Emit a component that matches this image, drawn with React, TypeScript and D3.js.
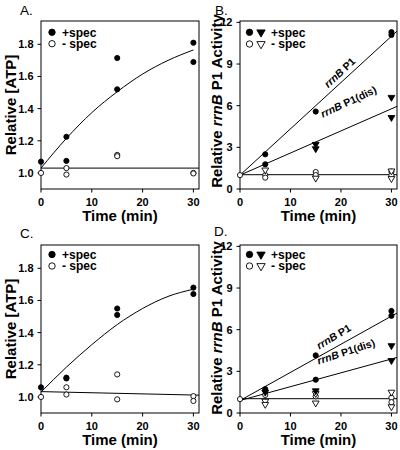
import React from "react";
import * as d3 from "d3";

const FONT = "'Liberation Sans', Arial, Helvetica, sans-serif";

// shared ticks
const timeTicks = [0, 10, 20, 30];
const atpTicks = [1.0, 1.2, 1.4, 1.6, 1.8];
const actTicks = [0, 3, 6, 9, 12];

// ---------- Panel A ----------
const aPlusT = [0, 5, 5, 15, 15, 30, 30];
const aPlusV = [1.07, 1.225, 1.075, 1.715, 1.52, 1.81, 1.69];
const aMinusT = [0, 5, 5, 15, 15, 30, 30];
const aMinusV = [1.0, 1.03, 0.99, 1.112, 1.104, 1.0, 0.997];
const fitT = [0, 5, 10, 15, 20, 25, 30];
const aFitPlus = [1.03, 1.215, 1.375, 1.505, 1.615, 1.7, 1.765];
const flatT = [0, 31.1];
const aFitMinus = [1.03, 1.03];

// ---------- Panel C ----------
const cPlusT = [0, 5, 5, 15, 15, 30, 30];
const cPlusV = [1.06, 1.12, 1.115, 1.55, 1.51, 1.68, 1.64];
const cMinusT = [0, 5, 5, 15, 15, 30, 30];
const cMinusV = [1.0, 1.06, 1.015, 1.14, 0.985, 1.005, 0.975];
const cFitPlus = [1.03, 1.185, 1.325, 1.45, 1.55, 1.625, 1.67];
const cFitMinus = [1.033, 1.011];

// ---------- Panel B ----------
const bCircT = [5, 5, 15, 30, 30];
const bCircV = [2.5, 1.78, 5.58, 11.3, 11.1];
const bTriT = [15, 15, 30, 30];
const bTriV = [3.22, 2.9, 6.6, 5.15];
const bOpenCircT = [0, 5, 5, 15, 15, 30, 30];
const bOpenCircV = [1.0, 1.0, 0.82, 1.22, 1.0, 1.25, 1.0];
const bOpenTriT = [5, 15, 30, 30];
const bOpenTriV = [1.37, 0.78, 1.3, 0.75];
const lineT = [0, 31.1];
const bP1Line = [1.0, 11.37];
const bDisLine = [1.0, 5.95];
const bMinusLine = [1.03, 1.03];

// ---------- Panel D ----------
const dCircT = [5, 15, 15, 30, 30];
const dCircV = [1.72, 4.15, 2.4, 7.35, 7.0];
const dTriT = [5, 15, 30, 30];
const dTriV = [1.5, 1.6, 4.85, 3.78];
const dOpenCircT = [0, 5, 15, 30, 30];
const dOpenCircV = [1.0, 1.3, 1.2, 1.1, 0.78];
const dOpenTriT = [5, 5, 15, 15, 30, 30];
const dOpenTriV = [0.85, 0.62, 1.4, 0.72, 1.5, 0.45];
const dP1Line = [0.9, 7.2];
const dDisLine = [0.9, 4.0];
const dMinusLine = [1.03, 1.03];

type Series = { t: number[]; v: number[]; shape: "circle" | "tri"; filled: boolean };
type Line = { t: number[]; v: number[]; smooth?: boolean };
type Label = { t: number; v: number; angle: number; rest: string };

interface PanelProps {
  left: number;
  right: number;
  top: number;
  bottom: number;
  yDomain: [number, number];
  yTicks: number[];
  yFmt: (d: number) => string;
  series: Series[];
  lines: Line[];
  labels: Label[];
  triLegend: boolean;
  letter: string;
  letterX: number;
  letterY: number;
  yTitle: React.ReactNode;
  yTitleX: number;
  yTitleY: number;
  legendDy: [number, number];
}

const triPathData = d3.symbol().type(d3.symbolTriangle).size(20)() as string;
const triPathLegend = d3.symbol().type(d3.symbolTriangle).size(30)() as string;

function Panel(p: PanelProps) {
  const x = d3.scaleLinear().domain([0, 31.1]).range([p.left, p.right]);
  const y = d3.scaleLinear().domain(p.yDomain).range([p.bottom, p.top]);
  const straight = d3
    .line<[number, number]>()
    .x((d) => x(d[0]))
    .y((d) => y(d[1]));
  const smooth = d3
    .line<[number, number]>()
    .x((d) => x(d[0]))
    .y((d) => y(d[1]))
    .curve(d3.curveMonotoneX);

  const lx = p.left + (p.triLegend ? 9.5 : 11);
  const ltx = p.left + (p.triLegend ? 21 : 0);
  const textX = p.left + (p.triLegend ? 31 : 21);
  const ly1 = p.top + p.legendDy[0];
  const ly2 = p.top + p.legendDy[1];

  return (
    <g>
      <text x={p.letterX} y={p.letterY} fontFamily={FONT} fontSize={13.5}>
        {p.letter}
      </text>
      <rect
        x={p.left}
        y={p.top}
        width={p.right - p.left}
        height={p.bottom - p.top}
        fill="none"
        stroke="#000"
        strokeWidth={1}
      />
      {p.yTicks.map((t) => (
        <g key={"y" + t}>
          <line x1={p.left - 3.5} x2={p.left} y1={y(t)} y2={y(t)} stroke="#000" />
          <text
            x={p.left - 7.5}
            y={y(t)}
            dy="0.36em"
            textAnchor="end"
            fontFamily={FONT}
            fontWeight="bold"
            fontSize={11}
          >
            {p.yFmt(t)}
          </text>
        </g>
      ))}
      {timeTicks.map((t) => (
        <g key={"x" + t}>
          <line x1={x(t)} x2={x(t)} y1={p.bottom} y2={p.bottom + 3.5} stroke="#000" />
          <text
            x={x(t)}
            y={p.bottom + 17}
            textAnchor="middle"
            fontFamily={FONT}
            fontWeight="bold"
            fontSize={11}
          >
            {t}
          </text>
        </g>
      ))}
      <text
        x={(p.left + p.right) / 2}
        y={p.bottom + 32}
        textAnchor="middle"
        fontFamily={FONT}
        fontWeight="bold"
        fontSize={15}
      >
        Time (min)
      </text>
      <text
        transform={`translate(${p.yTitleX},${p.yTitleY}) rotate(-90)`}
        textAnchor="middle"
        fontFamily={FONT}
        fontWeight="bold"
        fontSize={15}
      >
        {p.yTitle}
      </text>
      {p.lines.map((l, i) => (
        <path
          key={"l" + i}
          d={(l.smooth ? smooth : straight)(l.t.map((t, j) => [t, l.v[j]] as [number, number])) as string}
          fill="none"
          stroke="#000"
          strokeWidth={1}
        />
      ))}
      {p.labels.map((lb, i) => (
        <text
          key={"lb" + i}
          transform={`translate(${x(lb.t)},${y(lb.v)}) rotate(${lb.angle})`}
          textAnchor="middle"
          dy="0.35em"
          fontFamily={FONT}
          fontWeight="bold"
          fontSize={10.5}
        >
          <tspan fontStyle="italic">rrnB</tspan>
          {lb.rest}
        </text>
      ))}
      {p.series.map((s, si) =>
        s.t.map((t, j) =>
          s.shape === "circle" ? (
            <circle
              key={`p${si}-${j}`}
              cx={x(t)}
              cy={y(s.v[j])}
              r={2.6}
              fill={s.filled ? "#000" : "#fff"}
              stroke="#000"
              strokeWidth={0.9}
            />
          ) : (
            <path
              key={`p${si}-${j}`}
              d={triPathData}
              transform={`translate(${x(t)},${y(s.v[j])}) rotate(180)`}
              fill={s.filled ? "#000" : "#fff"}
              stroke="#000"
              strokeWidth={0.9}
            />
          )
        )
      )}
      <circle cx={lx} cy={ly1} r={3.2} fill="#000" stroke="#000" strokeWidth={0.9} />
      <circle cx={lx} cy={ly2} r={3.2} fill="#fff" stroke="#000" strokeWidth={0.9} />
      {p.triLegend && (
        <>
          <path d={triPathLegend} transform={`translate(${ltx},${ly1}) rotate(180)`} fill="#000" stroke="#000" strokeWidth={0.9} />
          <path d={triPathLegend} transform={`translate(${ltx},${ly2}) rotate(180)`} fill="#fff" stroke="#000" strokeWidth={0.9} />
        </>
      )}
      <text x={textX} y={ly1} dy="0.36em" fontFamily={FONT} fontWeight="bold" fontSize={12}>
        +spec
      </text>
      <text x={textX} y={ly2} dy="0.36em" fontFamily={FONT} fontWeight="bold" fontSize={12}>
        - spec
      </text>
    </g>
  );
}

const atpTitle = "Relative [ATP]";
const actTitle = (
  <>
    Relative <tspan fontStyle="italic">rrnB</tspan> P1 Activity
  </>
);

export default function App() {
  const rowOff = 224;
  const fmt1 = (d: number) => d.toFixed(1);
  const fmt0 = (d: number) => String(d);
  return (
    <svg
      width={400}
      height={450}
      style={{ position: "absolute", left: 0, top: 0, background: "#fff" }}
    >
      <Panel
        left={41}
        right={199}
        top={21}
        bottom={189}
        yDomain={[0.9, 1.945]}
        yTicks={atpTicks}
        yFmt={fmt1}
        series={[
          { t: aPlusT, v: aPlusV, shape: "circle", filled: true },
          { t: aMinusT, v: aMinusV, shape: "circle", filled: false },
        ]}
        lines={[
          { t: fitT, v: aFitPlus, smooth: true },
          { t: flatT, v: aFitMinus },
        ]}
        labels={[]}
        triLegend={false}
        letter="A."
        letterX={20}
        letterY={15}
        yTitle={atpTitle}
        yTitleX={16}
        yTitleY={105}
        legendDy={[11.3, 22.7]}
      />
      <Panel
        left={240}
        right={397}
        top={21}
        bottom={189}
        yDomain={[0, 12.1]}
        yTicks={actTicks}
        yFmt={fmt0}
        series={[
          { t: bOpenCircT, v: bOpenCircV, shape: "circle", filled: false },
          { t: bOpenTriT, v: bOpenTriV, shape: "tri", filled: false },
          { t: bTriT, v: bTriV, shape: "tri", filled: true },
          { t: bCircT, v: bCircV, shape: "circle", filled: true },
        ]}
        lines={[
          { t: lineT, v: bP1Line },
          { t: lineT, v: bDisLine },
          { t: lineT, v: bMinusLine },
        ]}
        labels={[
          { t: 19.74, v: 8.39, angle: -43, rest: " P1" },
          { t: 21.5, v: 6.29, angle: -25, rest: " P1(dis)" },
        ]}
        triLegend={true}
        letter="B."
        letterX={215}
        letterY={15}
        yTitle={actTitle}
        yTitleX={221.5}
        yTitleY={101}
        legendDy={[11.3, 23]}
      />
      <Panel
        left={41}
        right={199}
        top={21 + rowOff}
        bottom={189 + rowOff}
        yDomain={[0.9, 1.945]}
        yTicks={atpTicks}
        yFmt={fmt1}
        series={[
          { t: cPlusT, v: cPlusV, shape: "circle", filled: true },
          { t: cMinusT, v: cMinusV, shape: "circle", filled: false },
        ]}
        lines={[
          { t: fitT, v: cFitPlus, smooth: true },
          { t: flatT, v: cFitMinus },
        ]}
        labels={[]}
        triLegend={false}
        letter="C."
        letterX={20}
        letterY={238}
        yTitle={atpTitle}
        yTitleX={16}
        yTitleY={105 + rowOff}
        legendDy={[9.5, 21]}
      />
      <Panel
        left={240}
        right={397}
        top={21 + rowOff}
        bottom={189 + rowOff}
        yDomain={[0, 12.1]}
        yTicks={actTicks}
        yFmt={fmt0}
        series={[
          { t: dOpenCircT, v: dOpenCircV, shape: "circle", filled: false },
          { t: dOpenTriT, v: dOpenTriV, shape: "tri", filled: false },
          { t: dTriT, v: dTriV, shape: "tri", filled: true },
          { t: dCircT, v: dCircV, shape: "circle", filled: true },
        ]}
        lines={[
          { t: lineT, v: dP1Line },
          { t: lineT, v: dDisLine },
          { t: lineT, v: dMinusLine },
        ]}
        labels={[
          { t: 18.56, v: 5.5, angle: -31, rest: " P1" },
          { t: 21.0, v: 4.42, angle: -18, rest: " P1(dis)" },
        ]}
        triLegend={true}
        letter="D."
        letterX={214}
        letterY={236}
        yTitle={actTitle}
        yTitleX={221.5}
        yTitleY={328}
        legendDy={[9.5, 21]}
      />
    </svg>
  );
}
